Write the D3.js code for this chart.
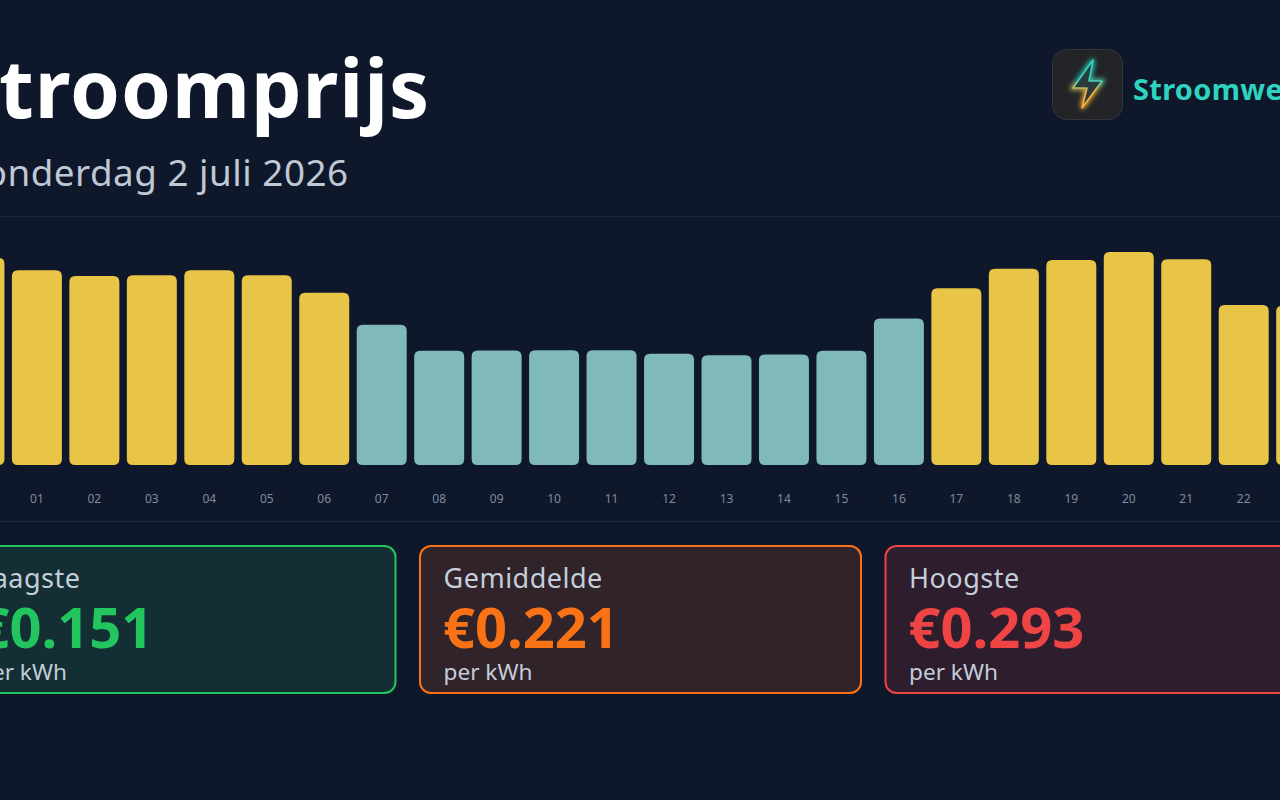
<!DOCTYPE html>
<html><head><meta charset="utf-8">
<script src="https://cdn.jsdelivr.net/npm/d3@7/dist/d3.min.js"></script>
<style>html,body{margin:0;padding:0;background:#0f172a;overflow:hidden}svg{display:block}text{font-family:"Noto Sans",sans-serif}</style>
</head><body><svg id="c" width="1280" height="800"></svg>
<script>
const hours=["00","01","02","03","04","05","06","07","08","09","10","11","12","13","14","15","16","17","18","19","20","21","22","23"];
const prices=[0.285,0.268,0.260,0.261,0.268,0.261,0.237,0.193,0.157,0.1575,0.158,0.158,0.153,0.151,0.152,0.157,0.2015,0.243,0.270,0.282,0.293,0.283,0.220,0.219];
const lowThreshold=0.21;
const cardLabels=["Laagste","Gemiddelde","Hoogste"];
const cardValues=["€0.151","€0.221","€0.293"];
const cardColors=["#22c55e","#f97316","#ef4444"];
const cardFills=["#132f33","#302329","#2e1d2c"];

const svg=d3.select("#c");
const defs=svg.append("defs");
const g=defs.append("linearGradient").attr("id","bolt").attr("x1",0).attr("y1",0).attr("x2",0).attr("y2",1);
g.append("stop").attr("offset","0.4").attr("stop-color","#2dd4bf");
g.append("stop").attr("offset","0.65").attr("stop-color","#fbb040");
const f=defs.append("filter").attr("id","glow").attr("x","-60%").attr("y","-60%").attr("width","220%").attr("height","220%");
f.append("feGaussianBlur").attr("stdDeviation",2.4);
const f2=defs.append("filter").attr("id","soft").attr("x","-20%").attr("y","-20%").attr("width","140%").attr("height","140%");
f2.append("feGaussianBlur").attr("stdDeviation",0.5);

// header
svg.append("text").attr("x",-46).attr("y",118).attr("font-size",80).attr("font-weight",700).attr("letter-spacing",1).attr("fill","#ffffff").text("Stroomprijs");
svg.append("text").attr("x",-38.5).attr("y",186).attr("font-size",36.8).attr("letter-spacing",0.5).attr("fill","#bfc8d5").text("donderdag 2 juli 2026");
svg.append("line").attr("x1",0).attr("x2",1280).attr("y1",216.5).attr("y2",216.5).attr("stroke","#1e293b");

// logo
svg.append("rect").attr("x",1052.5).attr("y",49.5).attr("width",70).attr("height",70).attr("rx",14).attr("fill","#222427").attr("stroke","#33363b");
const boltPath="M1093 60 L1073 88 L1087 88 L1082 108 L1102 81 L1089 81 Z";
svg.append("path").attr("d",boltPath).attr("fill","url(#bolt)").attr("fill-opacity",0.25).attr("stroke","url(#bolt)").attr("stroke-width",4).attr("filter","url(#glow)");
svg.append("path").attr("d",boltPath).attr("fill","#2a3a3c").attr("stroke","url(#bolt)").attr("stroke-width",1.6).attr("stroke-linejoin","round").attr("filter","url(#soft)");
svg.append("text").attr("x",1133).attr("y",100).attr("font-size",29).attr("font-weight",700).attr("letter-spacing",0.3).attr("fill","#2dd4bf").text("Stroomwegwijzer");

// chart
const x=d3.scaleBand().domain(hours).range([-49.3,1329.9]).paddingInner(0.13).paddingOuter(0.065);
const y=d3.scaleLinear().domain([0,0.293]).range([465,252]);
const r=6;
svg.append("g").selectAll("path").data(prices).join("path")
  .attr("fill",d=>d<lowThreshold?"#80b9b9":"#e8c547")
  .attr("d",(d,i)=>{const X=x(hours[i]),W=x.bandwidth(),T=y(d),B=y(0);
    return `M${X},${T+r}Q${X},${T} ${X+r},${T}H${X+W-r}Q${X+W},${T} ${X+W},${T+r}V${B-r}Q${X+W},${B} ${X+W-r},${B}H${X+r}Q${X},${B} ${X},${B-r}Z`;});
const ax=svg.append("g").attr("transform","translate(0,487)").call(d3.axisBottom(x).tickSize(0).tickPadding(0));
ax.select(".domain").remove();
ax.selectAll("text").attr("font-size",12).attr("fill","#7f8a9b").attr("font-family",'"Noto Sans",sans-serif').attr("dy","0.71em").attr("y",7);
svg.append("line").attr("x1",0).attr("x2",1280).attr("y1",521.5).attr("y2",521.5).attr("stroke","#1e293b");

// cards
const cards=svg.append("g").selectAll("g").data(cardLabels).join("g").attr("transform",(d,i)=>`translate(${-45.5+465.5*i},546)`);
cards.append("rect").attr("width",441).attr("height",147).attr("rx",11).attr("fill",(d,i)=>cardFills[i]).attr("stroke",(d,i)=>cardColors[i]).attr("stroke-width",2);
cards.append("text").attr("x",23.5).attr("y",42).attr("font-size",27).attr("letter-spacing",0.5).attr("fill","#c4cedb").text(d=>d);
cards.append("text").attr("x",23).attr("y",102).attr("font-size",56).attr("font-weight",700).attr("fill",(d,i)=>cardColors[i]).text((d,i)=>cardValues[i]);
cards.append("text").attr("x",23.5).attr("y",134).attr("font-size",22.6).attr("fill","#c4cedb").text("per kWh");
</script></body></html>
